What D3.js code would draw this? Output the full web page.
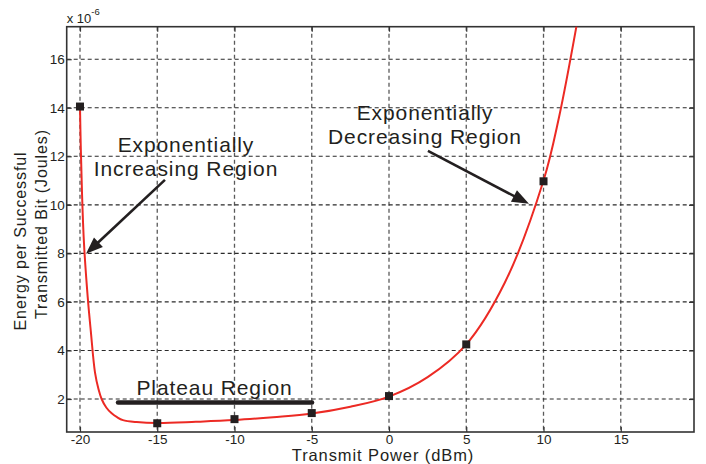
<!DOCTYPE html>
<html>
<head>
<meta charset="utf-8">
<script src="https://cdn.jsdelivr.net/npm/d3@7"></script>
<style>
  html, body { margin: 0; padding: 0; background: #fff; }
  svg { display: block; font-family: "Liberation Sans", Arial, Helvetica, sans-serif; }
</style>
</head>
<body>
<svg id="chart" width="706" height="464"></svg>
<script>
// Measured transmit powers (dBm) and energy per successful bit (x 1e-6 J)
const powerLevels = [-20, -15, -10, -5, 0, 5, 10];
const energyMeasured = [14.05, 1.0, 1.17, 1.42, 2.12, 4.25, 10.97];

// Trend curve through the measurements
const curvePower = [-20, -19.95, -19.87, -19.74, -19.5, -19.3, -19.03, -18.8, -18.6, -18.3, -17.95, -17.6, -17.22, -16.33, -15, -12.5, -10, -7.5, -5, -2.5, 0, 2.5, 5, 7.5, 10, 11, 12.2];
const curveEnergy = [14.05, 12.4, 10.5, 8.4, 6.2, 4.8, 3.1, 2.4, 2.0, 1.65, 1.41, 1.25, 1.13, 1.05, 1.01, 1.06, 1.13, 1.25, 1.4, 1.68, 2.1, 2.9, 4.25, 6.8, 11.0, 13.6, 17.6];

// Axis ticks
const xTicks = [-20, -15, -10, -5, 0, 5, 10, 15];
const yTicks = [2, 4, 6, 8, 10, 12, 14, 16];

// Annotation texts (data coordinates)
const incLines = ["Exponentially", "Increasing Region"];
const incText = [-13.14, 12.18];
const incArrow = [[-14.5, 11.03], [-19.61, 7.98]];
const decLines = ["Exponentially", "Decreasing Region"];
const decText = [2.33, 13.5];
const decArrow = [[2.52, 12.22], [9.06, 10.04]];
const plateauLabel = "Plateau Region";
const plateauText = [-11.29, 2.16];
const plateauBar = [[-17.54, 1.86], [-4.98, 1.86]];

const svg = d3.select("#chart");
const plotL = 66.7, plotR = 694, plotT = 26.7, plotB = 432;

const x = d3.scaleLinear().domain([-20.86, 19.74]).range([plotL, plotR]);
const y = d3.scaleLinear().domain([0.64, 17.34]).range([plotB, plotT]);

svg.append("rect").attr("width", 706).attr("height", 464).attr("fill", "#fff");

svg.append("defs").append("clipPath").attr("id", "plotClip")
  .append("rect").attr("x", plotL).attr("y", plotT)
  .attr("width", plotR - plotL).attr("height", plotB - plotT);

// Grid
const grid = svg.append("g");
grid.selectAll("line.vg").data(xTicks).join("line")
  .attr("x1", d => x(d)).attr("x2", d => x(d))
  .attr("y1", plotT).attr("y2", plotB)
  .attr("stroke", "#5a5a5a").attr("stroke-width", 1.3)
  .attr("stroke-dasharray", "4,3");
grid.selectAll("line.hg").data(yTicks).join("line")
  .attr("y1", d => y(d)).attr("y2", d => y(d))
  .attr("x1", plotL).attr("x2", plotR)
  .attr("stroke", "#2a2a2a").attr("stroke-width", 1.1)
  .attr("stroke-dasharray", "4,3");

// Axes (box with inward ticks)
const fmt = d => String(d);
const axisStyle = g => {
  g.select(".domain").remove();
  g.selectAll(".tick line").attr("stroke", "#333").attr("stroke-width", 1.2);
  g.selectAll(".tick text").attr("fill", "#231f20").attr("font-size", 13.5)
    .attr("font-family", "Liberation Sans, Arial, sans-serif");
};
svg.append("g").attr("transform", `translate(0,${plotB})`)
  .call(d3.axisBottom(x).tickValues(xTicks).tickSizeInner(-5).tickSizeOuter(0).tickPadding(2).tickFormat(fmt))
  .call(axisStyle);
svg.append("g").attr("transform", `translate(0,${plotT})`)
  .call(d3.axisTop(x).tickValues(xTicks).tickSizeInner(-5).tickSizeOuter(0).tickFormat(() => ""))
  .call(axisStyle);
svg.append("g").attr("transform", `translate(${plotL},0)`)
  .call(d3.axisLeft(y).tickValues(yTicks).tickSizeInner(-5).tickSizeOuter(0).tickPadding(2).tickFormat(fmt))
  .call(axisStyle);
svg.append("g").attr("transform", `translate(${plotR},0)`)
  .call(d3.axisRight(y).tickValues(yTicks).tickSizeInner(-5).tickSizeOuter(0).tickFormat(() => ""))
  .call(axisStyle);

svg.append("rect").attr("x", plotL).attr("y", plotT)
  .attr("width", plotR - plotL).attr("height", plotB - plotT)
  .attr("fill", "none").attr("stroke", "#333").attr("stroke-width", 1.6);

// Exponent label
const expo = svg.append("text").attr("x", plotL).attr("y", 23)
  .attr("font-size", 13).attr("fill", "#231f20");
expo.append("tspan").text("x 10");
expo.append("tspan").attr("dy", -8).attr("font-size", 9.5).text("-6");

// Trend curve
const curveData = curvePower.map((p, i) => [p, curveEnergy[i]]);
svg.append("path").datum(curveData)
  .attr("clip-path", "url(#plotClip)")
  .attr("fill", "none").attr("stroke", "#ec2a24").attr("stroke-width", 2)
  .attr("d", d3.line().x(d => x(d[0])).y(d => y(d[1])).curve(d3.curveCatmullRom.alpha(0.5)));

// Measurement markers
svg.append("g").selectAll("rect").data(powerLevels.map((p, i) => [p, energyMeasured[i]]))
  .join("rect")
  .attr("x", d => x(d[0]) - 4).attr("y", d => y(d[1]) - 4)
  .attr("width", 8).attr("height", 8).attr("fill", "#231f20");

// Annotations
const annFont = 21, annSpacing = 0.9;
function multiLine(lines, pos) {
  const t = svg.append("text").attr("x", x(pos[0])).attr("y", y(pos[1]))
    .attr("text-anchor", "middle").attr("font-size", annFont).attr("fill", "#231f20")
    .attr("letter-spacing", annSpacing);
  lines.forEach((s, i) => t.append("tspan").attr("x", x(pos[0])).attr("dy", i ? 24.5 : 0).text(s));
}
function arrow(pts) {
  const [x0, y0] = [x(pts[0][0]), y(pts[0][1])];
  const [x1, y1] = [x(pts[1][0]), y(pts[1][1])];
  const ang = Math.atan2(y1 - y0, x1 - x0);
  const len = 17, half = 6.5;
  const bx = x1 - len * Math.cos(ang), by = y1 - len * Math.sin(ang);
  svg.append("line").attr("x1", x0).attr("y1", y0).attr("x2", bx + 3 * Math.cos(ang)).attr("y2", by + 3 * Math.sin(ang))
    .attr("stroke", "#231f20").attr("stroke-width", 2.6);
  svg.append("path")
    .attr("d", `M${x1},${y1}L${bx - half * Math.sin(ang)},${by + half * Math.cos(ang)}L${bx + half * Math.sin(ang)},${by - half * Math.cos(ang)}Z`)
    .attr("fill", "#231f20");
}
multiLine(incLines, incText);
arrow(incArrow);
multiLine(decLines, decText);
arrow(decArrow);

svg.append("text").attr("x", x(plateauText[0])).attr("y", y(plateauText[1]))
  .attr("text-anchor", "middle").attr("font-size", annFont).attr("fill", "#231f20")
  .attr("letter-spacing", annSpacing).text(plateauLabel);
svg.append("line")
  .attr("x1", x(plateauBar[0][0])).attr("y1", y(plateauBar[0][1]))
  .attr("x2", x(plateauBar[1][0])).attr("y2", y(plateauBar[1][1]))
  .attr("stroke", "#231f20").attr("stroke-width", 4.5).attr("stroke-linecap", "round");

// Axis titles
svg.append("text").attr("x", 383).attr("y", 460.5).attr("text-anchor", "middle")
  .attr("font-size", 16.5).attr("letter-spacing", 0.9).attr("fill", "#231f20").text("Transmit Power (dBm)");
svg.append("text").attr("transform", "translate(26,241) rotate(-90)")
  .attr("text-anchor", "middle").attr("font-size", 16).attr("letter-spacing", 0.9).attr("fill", "#231f20")
  .text("Energy per Successful");
svg.append("text").attr("transform", "translate(46.5,224) rotate(-90)")
  .attr("text-anchor", "middle").attr("font-size", 16).attr("letter-spacing", 0.9).attr("fill", "#231f20")
  .text("Transmitted Bit (Joules)");
</script>
</body>
</html>
